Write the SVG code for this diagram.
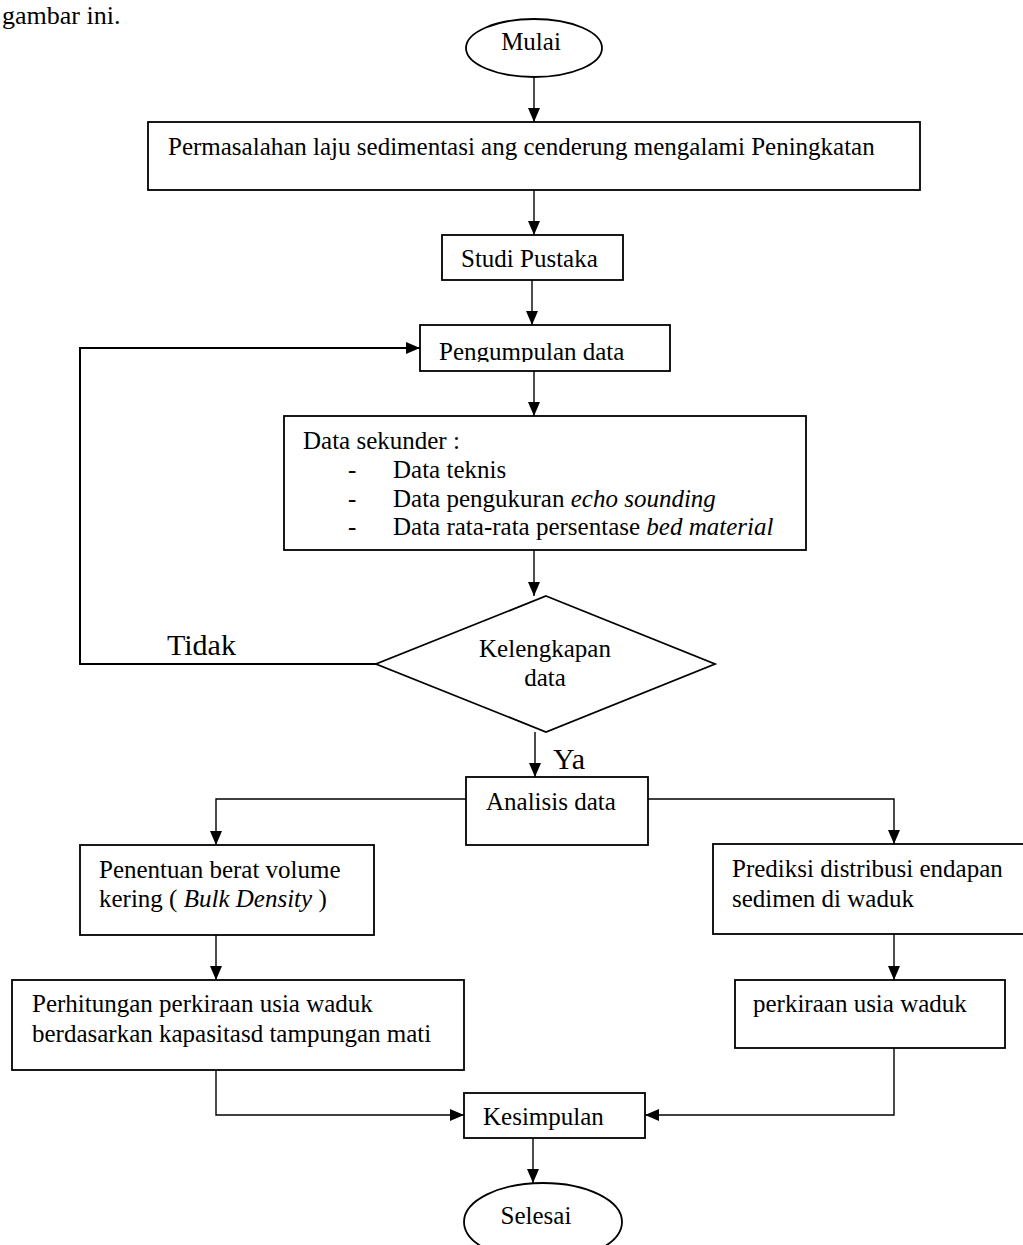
<svg xmlns="http://www.w3.org/2000/svg" width="1023" height="1245" viewBox="0 0 1023 1245">
<defs>
<style>
.t{font-family:"Liberation Serif","Times New Roman",serif;font-size:25px;fill:#000}
.big{font-size:30px}
.it{font-style:italic}
.box{fill:#fff;stroke:#000;stroke-width:1.8}
.ln{fill:none;stroke:#000;stroke-width:1.4}
.ln2{fill:none;stroke:#000;stroke-width:2}
</style>
<marker id="ah" markerUnits="userSpaceOnUse" markerWidth="14" markerHeight="12" refX="14" refY="6" orient="auto">
<path d="M0,0 L14,6 L0,12 z" fill="#000"/>
</marker>
<clipPath id="clipP"><rect x="420" y="325" width="250" height="37"/></clipPath>
</defs>
<rect width="1023" height="1245" fill="#fff"/>
<text class="t" x="2" y="24" style="font-size:26px">gambar ini.</text>

<g id="connectors">
<line class="ln" x1="534" y1="77" x2="534" y2="122" marker-end="url(#ah)"/>
<line class="ln" x1="534" y1="190" x2="534" y2="235" marker-end="url(#ah)"/>
<line class="ln" x1="532" y1="280" x2="532" y2="325" marker-end="url(#ah)"/>
<line class="ln" x1="534" y1="371" x2="534" y2="416" marker-end="url(#ah)"/>
<line class="ln" x1="534" y1="550" x2="534" y2="596" marker-end="url(#ah)"/>
<polyline class="ln2" points="376,664 80,664 80,348 420,348" marker-end="url(#ah)"/>
<line class="ln" x1="535" y1="732" x2="535" y2="777" marker-end="url(#ah)"/>
<polyline class="ln" points="466,799 216,799 216,845" marker-end="url(#ah)"/>
<polyline class="ln" points="648,799 894,799 894,844" marker-end="url(#ah)"/>
<line class="ln" x1="216" y1="935" x2="216" y2="980" marker-end="url(#ah)"/>
<line class="ln" x1="894" y1="934" x2="894" y2="980" marker-end="url(#ah)"/>
<polyline class="ln" points="216,1070 216,1115 464,1115" marker-end="url(#ah)"/>
<polyline class="ln" points="894,1048 894,1115 645,1115" marker-end="url(#ah)"/>
<line class="ln" x1="533" y1="1138" x2="533" y2="1183" marker-end="url(#ah)"/>
</g>

<g id="mulai">
<ellipse class="box" cx="534" cy="48" rx="68" ry="29"/>
<text class="t" x="531" y="50" text-anchor="middle">Mulai</text>
</g>

<g id="permasalahan">
<rect class="box" x="148" y="122" width="772" height="68"/>
<text class="t" x="168" y="155">Permasalahan laju sedimentasi ang cenderung mengalami Peningkatan</text>
</g>

<g id="studi">
<rect class="box" x="442" y="235" width="181" height="45"/>
<text class="t" x="461" y="267">Studi Pustaka</text>
</g>

<g id="pengumpulan">
<rect class="box" x="420" y="325" width="250" height="46"/>
<text class="t" x="439" y="360" clip-path="url(#clipP)">Pengumpulan data</text>
</g>

<g id="sekunder">
<rect class="box" x="284" y="416" width="522" height="134"/>
<text class="t" x="303" y="449">Data sekunder :</text>
<text class="t" x="348" y="478">-</text>
<text class="t" x="393" y="478">Data teknis</text>
<text class="t" x="348" y="507">-</text>
<text class="t" x="393" y="507">Data pengukuran <tspan class="it">echo sounding</tspan></text>
<text class="t" x="348" y="535">-</text>
<text class="t" x="393" y="535">Data rata-rata persentase <tspan class="it">bed material</tspan></text>
</g>

<g id="kelengkapan">
<polygon class="box" points="546,596 715,664 546,732 376,664"/>
<text class="t" x="545" y="657" text-anchor="middle">Kelengkapan</text>
<text class="t" x="545" y="686" text-anchor="middle">data</text>
</g>

<text class="t big" x="167" y="655">Tidak</text>
<text class="t big" x="553" y="769">Ya</text>

<g id="analisis">
<rect class="box" x="466" y="777" width="182" height="68"/>
<text class="t" x="486" y="810">Analisis data</text>
</g>

<g id="penentuan">
<rect class="box" x="80" y="845" width="294" height="90"/>
<text class="t" x="99" y="878">Penentuan berat volume</text>
<text class="t" x="99" y="907">kering ( <tspan class="it">Bulk Density</tspan> )</text>
</g>

<g id="prediksi">
<rect class="box" x="713" y="844" width="320" height="90"/>
<text class="t" x="732" y="877">Prediksi distribusi endapan</text>
<text class="t" x="732" y="907">sedimen di waduk</text>
</g>

<g id="perhitungan">
<rect class="box" x="12" y="980" width="452" height="90"/>
<text class="t" x="32" y="1012">Perhitungan perkiraan usia waduk</text>
<text class="t" x="32" y="1042">berdasarkan kapasitasd tampungan mati</text>
</g>

<g id="perkiraan">
<rect class="box" x="735" y="980" width="270" height="68"/>
<text class="t" x="753" y="1012">perkiraan usia waduk</text>
</g>

<g id="kesimpulan">
<rect class="box" x="464" y="1093" width="181" height="45"/>
<text class="t" x="483" y="1125">Kesimpulan</text>
</g>

<g id="selesai">
<ellipse class="box" cx="543" cy="1222" rx="79" ry="39"/>
<text class="t" x="536" y="1224" text-anchor="middle">Selesai</text>
</g>
</svg>
